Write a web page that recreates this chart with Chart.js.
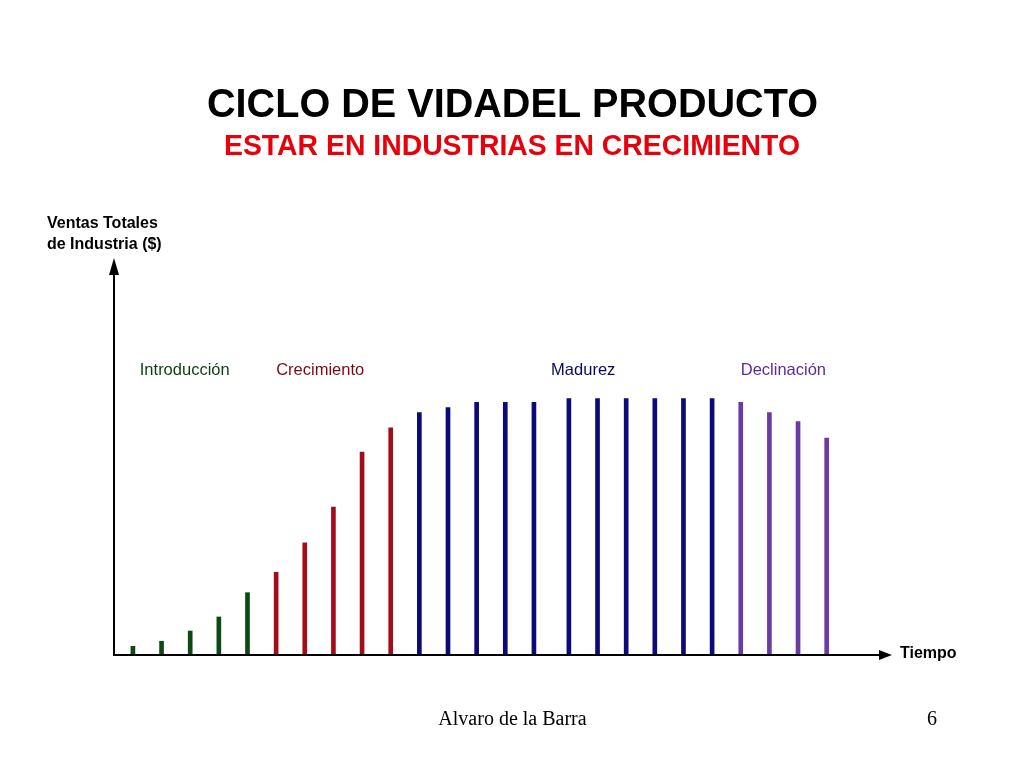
<!DOCTYPE html>
<html>
<head>
<meta charset="utf-8">
<script src="https://cdn.jsdelivr.net/npm/chart.js@4"></script>
<style>
html,body{margin:0;padding:0;background:#fff;}
#wrap{position:relative;width:1024px;height:768px;}
canvas{display:block;}
</style>
</head>
<body>
<div id="wrap"><canvas id="c" width="1024" height="768"></canvas></div>
<script>
// ---- data ----
const titleText = "CICLO DE VIDADEL PRODUCTO";
const subtitleText = "ESTAR EN INDUSTRIAS EN CRECIMIENTO";
const yAxisLabel = ["Ventas Totales", "de Industria ($)"];
const xAxisLabel = "Tiempo";
const footerLeft = "Alvaro de la Barra";
const footerRight = "6";

const times = [1,2,3,4,5,6,7,8,9,10,11,12,13,14,15,16.22,17.22,18.22,19.22,20.22,21.22,22.22,23.22,24.22,25.22];
const sales = [3,5,9,14.5,24,32,43.5,57.5,79,88.5,94.5,96.5,98.5,98.5,98.5,100,100,100,100,100,100,98.5,94.5,91,84.5];
const phaseOf = [0,0,0,0,0,1,1,1,1,1,2,2,2,2,2,2,2,2,2,2,2,3,3,3,3];

const phaseNames = ["Introducción","Crecimiento","Madurez","Declinación"];
const phaseBarColors = ["#0b4a12","#a30d1a","#0a0a78","#6b3aa3"];
const phaseTextColors = ["#0c3d12","#7a0a10","#0a0a5a","#5f2a96"];
const phaseLabelAt = [1.24,6.0,15.6,22.22];

const datasets = phaseNames.map((name, p) => ({
  label: name,
  data: times.map((t,i)=>({x:t,y:sales[i]})).filter((d,i)=>phaseOf[i]===p),
  backgroundColor: phaseBarColors[p],
  barThickness: 4,
  grouped: false
}));

function fitText(ctx, text, x, y, width){
  const w = ctx.measureText(text).width;
  ctx.save();
  ctx.translate(x, y);
  ctx.scale(width / w, 1);
  ctx.fillText(text, 0, 0);
  ctx.restore();
}

const decor = {
  id: 'decor',
  afterDatasetsDraw(chart){
    const ctx = chart.ctx;
    const xs = chart.scales.x, ys = chart.scales.y;
    const x0 = xs.left, y0 = ys.getPixelForValue(0);
    const top = chart.chartArea.top, right = chart.chartArea.right;
    ctx.save();
    ctx.strokeStyle = '#000'; ctx.fillStyle = '#000'; ctx.lineWidth = 2;
    // y axis
    ctx.beginPath(); ctx.moveTo(x0, y0+1); ctx.lineTo(x0, top+12); ctx.stroke();
    ctx.beginPath(); ctx.moveTo(x0, top); ctx.lineTo(x0-5, top+17); ctx.lineTo(x0+5, top+17); ctx.closePath(); ctx.fill();
    // x axis
    ctx.beginPath(); ctx.moveTo(x0-1, y0+1); ctx.lineTo(right-10, y0+1); ctx.stroke();
    ctx.beginPath(); ctx.moveTo(right, y0+1); ctx.lineTo(right-13, y0-4); ctx.lineTo(right-13, y0+6); ctx.closePath(); ctx.fill();

    // title
    ctx.textAlign = 'center'; ctx.textBaseline = 'alphabetic';
    ctx.font = 'bold 41px "Liberation Sans", Arial, sans-serif';
    ctx.fillStyle = '#000';
    fitText(ctx, titleText, 512.5, 117, 611);
    ctx.font = 'bold 29px "Liberation Sans", Arial, sans-serif';
    ctx.fillStyle = '#e8000b';
    fitText(ctx, subtitleText, 512, 155, 576);

    // y-axis label
    ctx.textAlign = 'left';
    ctx.font = 'bold 16px "Liberation Sans", Arial, sans-serif';
    ctx.fillStyle = '#000';
    ctx.fillText(yAxisLabel[0], 47, 228);
    ctx.fillText(yAxisLabel[1], 47, 249);
    // x-axis label
    ctx.fillText(xAxisLabel, 900, 658);

    // phase labels
    ctx.font = '16.5px "Liberation Sans", Arial, sans-serif';
    ctx.textBaseline = 'middle';
    phaseNames.forEach((n,p)=>{
      ctx.fillStyle = phaseTextColors[p];
      ctx.fillText(n, xs.getPixelForValue(phaseLabelAt[p]), 370);
    });

    // footer
    ctx.fillStyle = '#000';
    ctx.font = '20px "Liberation Serif", "Times New Roman", serif';
    ctx.textAlign = 'center';
    ctx.textBaseline = 'alphabetic';
    ctx.fillText(footerLeft, 512.5, 725);
    ctx.fillText(footerRight, 932, 725);
    ctx.restore();
  }
};

new Chart(document.getElementById('c'), {
  type: 'bar',
  data: { datasets },
  options: {
    responsive: false,
    animation: false,
    events: [],
    layout: { padding: { left: 114, right: 132, top: 258, bottom: 114 } },
    plugins: { legend: { display: false }, tooltip: { enabled: false }, title: { display: false } },
    scales: {
      x: { type: 'linear', min: 0.34, max: 27.5, display: false, offset: false },
      y: { min: 0, max: 155, display: false }
    }
  },
  plugins: [decor]
});
</script>
</body>
</html>
